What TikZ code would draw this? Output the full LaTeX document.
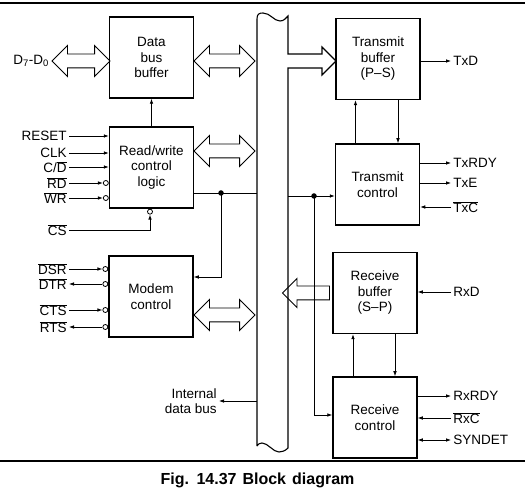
\documentclass[tikz,border=0pt]{standalone}
\usepackage{fontspec}
\setmainfont{Liberation Sans}
\usetikzlibrary{positioning,arrows.meta,shapes.arrows}
\newcommand{\ovl}[1]{$\overline{\mbox{#1}}$}
\tikzset{
    block/.style = {
        draw,
        shape=rectangle,
        align=center,
        minimum height=81pt,
        minimum width=84pt,
        line width=1.5pt
    },
    bubble/.style = {
        draw,
        shape=circle,
        inner sep=0pt,
        minimum size=5pt,
        fill=white,
        line width=0.8pt
    },
    lbl/.style = {
        inner sep=2pt
    },
    hollow/.style = {
        draw,
        double arrow,
        inner xsep=0pt,
        inner ysep=6.5pt,
        double arrow head extend=8.5pt,
        minimum height=61pt,
        line width=0.9pt
    },
    hollowin/.style = {
        draw,
        single arrow,
        shape border rotate=180,
        inner xsep=0pt,
        inner ysep=6.5pt,
        single arrow head extend=7.5pt,
        line width=0.9pt
    },
    dot/.style = {
        shape=circle,
        fill,
        inner sep=0pt,
        minimum size=5.5pt
    },
    >={Latex[length=5pt,width=3.6pt]},
}
\begin{document}
\begin{tikzpicture}[x=1pt, y=-1pt, line width=0.8pt, font=\fontsize{13.5}{15.5}\selectfont]
                \useasboundingbox (0,0) rectangle (525,494);

                % internal bus
                \node[minimum width=31pt, minimum height=432pt, inner sep=0pt] (bus) at (272.5,231) {};
                \path[draw, line width=1.1pt] (257,446) -- (257,19) .. controls (257,14) and (259,13) .. (263,13)
                    .. controls (270,13) and (274,21) .. (280,21) .. controls (284,21) and (286,18) .. (288,16)
                    -- (288,54) -- (322,54) -- (322,47) -- (336,61) -- (322,75) -- (322,68) -- (288,68)
                    -- (288,448) .. controls (285,451) and (282,452) .. (279,452)
                    .. controls (273,452) and (268,443) .. (262,443) .. controls (260,443) and (258,444) .. (257,446);

                \node[block] (dbb) at (151.5,57.5) {Data\\bus\\buffer};
                \node[block] (rw) at (151.5,167.5) {Read/write\\control\\logic};
                \node[block] (modem) at (151,296.5) {Modem\\control};
                \node[block] (txbuf) at (378,59) {Transmit\\buffer\\(P--S)};
                \node[block] (txctl) at (377.5,184.5) {Transmit\\control};
                \node[block] (rxbuf) at (375,293) {Receive\\buffer\\(S--P)};
                \node[block] (rxctl) at (375,417.5) {Receive\\control};

                % wide arrows
                \node[hollow, minimum height=58pt] (dar) at (81,61) {};
                \node[hollow] (dbbar) at (224.5,61) {};
                \node[hollow] (rwar) at (224.5,151) {};
                \node[hollow] (mdar) at (224.5,315) {};
                \node[hollowin, minimum height=47pt] (rxar) at (309.5,293) {};
                \node[lbl, anchor=east] (dlbl) at (dar.west) {D\textsubscript{7}-D\textsubscript{0}};

                % read/write inputs
                \node[lbl, anchor=east] (reset) at (69,136) {RESET};
                \node[lbl, anchor=east] (clk) at (69,153) {CLK};
                \node[lbl, anchor=east] (cd) at (69,167) {C/\ovl{D}};
                \node[lbl, anchor=east] (rd) at (69,183) {\ovl{RD}};
                \node[lbl, anchor=east] (wr) at (69,198) {\ovl{WR}};
                \node[lbl, anchor=east] (cs) at (69,230) {\ovl{CS}};
                \node[bubble, anchor=east] (rdb) at (rw.west |- rd) {};
                \node[bubble, anchor=east] (wrb) at (rw.west |- wr) {};
                \coordinate (csx) at (150,0);
                \node[bubble, anchor=north] (csb) at (rw.south -| csx) {};

                \path[draw, ->] (reset) -- (rw.west |- reset);
                \path[draw, ->] (clk) -- (rw.west |- clk);
                \path[draw, ->] (cd) -- (rw.west |- cd);
                \path[draw, ->] (rd) -- (rdb);
                \path[draw, ->] (wr) -- (wrb);
                \path[draw, ->] (cs) -| (csb);
                \path[draw, ->] (rw) -- (dbb);

                % modem lines
                \node[lbl, anchor=east] (dsr) at (69,269) {\ovl{DSR}};
                \node[lbl, anchor=east] (dtr) at (69,284) {\ovl{DTR}};
                \node[lbl, anchor=east] (cts) at (69,310) {\ovl{CTS}};
                \node[lbl, anchor=east] (rts) at (69,327) {\ovl{RTS}};
                \node[bubble, anchor=east] (dsrb) at (modem.west |- dsr) {};
                \node[bubble, anchor=east] (dtrb) at (modem.west |- dtr) {};
                \node[bubble, anchor=east] (ctsb) at (modem.west |- cts) {};
                \node[bubble, anchor=east] (rtsb) at (modem.west |- rts) {};
                \path[draw, ->] (dsr) -- (dsrb);
                \path[draw, ->] (dtrb) -- (dtr);
                \path[draw, ->] (cts) -- (ctsb);
                \path[draw, ->] (rtsb) -- (rts);

                % control line
                \coordinate (j1) at (221,193);
                \coordinate (mdin) at (193,277);
                \path[draw] (rw.east |- j1) -- (bus.west |- j1);
                \node[dot] at (j1) {};
                \path[draw, ->] (j1) |- (modem.east |- mdin);

                \coordinate (j2) at (314,196);
                \coordinate (rxin) at (314,415);
                \path[draw, ->] (bus.east |- j2) -- (txctl.west |- j2);
                \node[dot] at (j2) {};
                \path[draw, ->] (j2) |- (rxctl.west |- rxin);

                \node[lbl, anchor=east, align=right] (idb) at (219,401) {Internal\\data bus};
                \path[draw, ->] (bus.west |- idb) -- (idb);

                % transmitter / receiver
                \path[draw, ->] ([xshift=-22pt]txctl.north) -- ([xshift=-22pt]txctl.north |- txbuf.south);
                \path[draw, ->] ([xshift=20pt]txbuf.south) -- ([xshift=20pt]txbuf.south |- txctl.north);
                \path[draw, ->] ([xshift=-22pt]rxctl.north) -- ([xshift=-22pt]rxctl.north |- rxbuf.south);
                \path[draw, ->] ([xshift=20pt]rxbuf.south) -- ([xshift=20pt]rxbuf.south |- rxctl.north);

                \node[lbl, anchor=west] (txd) at (451,61) {TxD};
                \node[lbl, anchor=west] (txrdy) at (451,163) {TxRDY};
                \node[lbl, anchor=west] (txe) at (451,183) {TxE};
                \node[lbl, anchor=west] (txc) at (451,207) {\ovl{TxC}};
                \node[lbl, anchor=west] (rxd) at (451,292) {RxD};
                \node[lbl, anchor=west] (rxrdy) at (451,396) {RxRDY};
                \node[lbl, anchor=west] (rxc) at (451,418) {\ovl{RxC}};
                \node[lbl, anchor=west] (syndet) at (451,440) {SYNDET};
                \path[draw, ->] (txbuf.east |- txd) -- (txd);
                \path[draw, ->] (txctl.east |- txrdy) -- (txrdy);
                \path[draw, ->] (txctl.east |- txe) -- (txe);
                \path[draw, ->] (txc) -- (txctl.east |- txc);
                \path[draw, ->] (rxd) -- (rxbuf.east |- rxd);
                \path[draw, ->] (rxctl.east |- rxrdy) -- (rxrdy);
                \path[draw, ->] (rxc) -- (rxctl.east |- rxc);
                \path[draw, <->] (rxctl.east |- syndet) -- (syndet);

                % rules and caption
                \path[draw, line width=1.2pt] (0,3) -- (525,3);
                \path[draw, line width=1.2pt] (0,461) -- (525,461);
                \node[font=\bfseries\fontsize{16}{18}\selectfont] (cap) at (257.5,480) {\spaceskip=6pt\relax Fig. 14.37 Block diagram};
            \end{tikzpicture}
\end{document}
